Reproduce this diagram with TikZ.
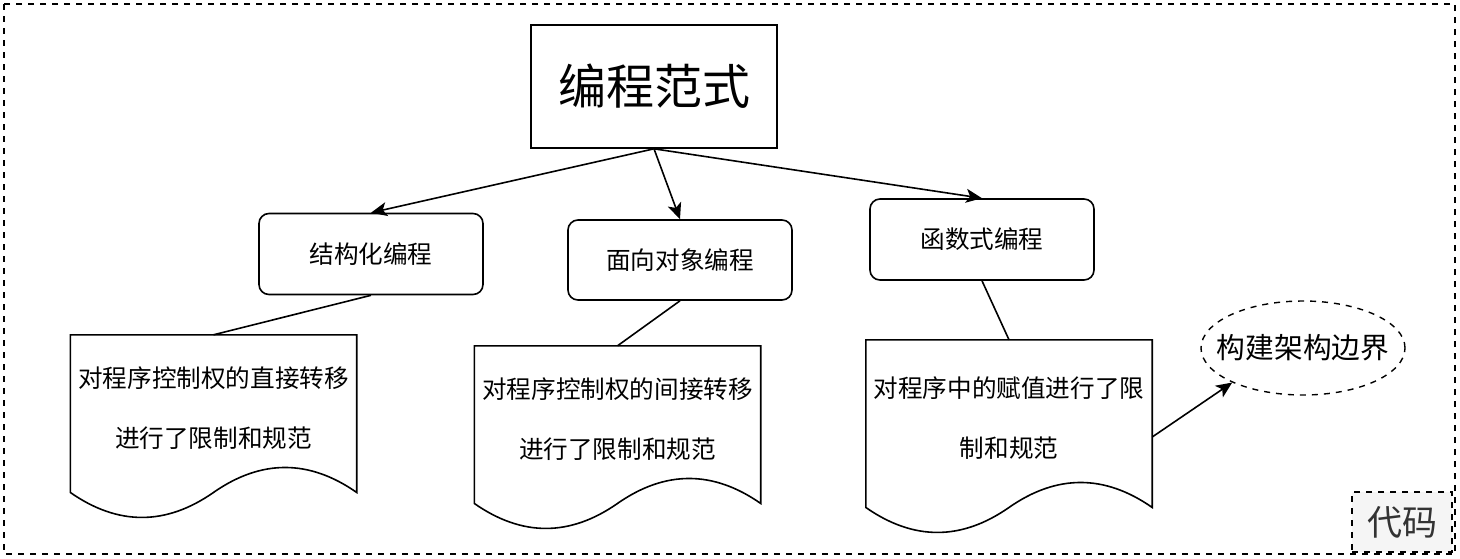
\documentclass[tikz,border=0pt]{standalone}
\usepackage{fontspec}
\setmainfont{Noto Sans CJK SC}
\usetikzlibrary{arrows.meta,shapes.geometric}
\definecolor{notegray}{HTML}{F5F5F5}
\definecolor{notetext}{HTML}{333333}
\newcommand{\docoutline}[1]{%
  \draw[line] (#1.north west) -- (#1.north east) -- ([yshift=-11.25pt]#1.south east)
    .. controls ([xshift=-47.7pt,yshift=22.05pt]#1.south east) and ([xshift=47.7pt,yshift=22.05pt]#1.south) .. ([yshift=-11.25pt]#1.south)
    .. controls ([xshift=-47.7pt,yshift=-44.55pt]#1.south) and ([xshift=47.7pt,yshift=-44.55pt]#1.south west) .. ([yshift=-11.25pt]#1.south west) -- cycle;}

\begin{document}
\begin{tikzpicture}[x=1pt,y=-1pt,
      line/.style={line width=1.6pt},
      dashline/.style={line width=1.6pt,dash pattern=on 6pt off 6pt},
      box/.style={draw,line width=1.6pt,rounded corners=10pt,fill=white,minimum width=224pt,minimum height=81pt,align=center,font=\fontsize{24.6}{30}\selectfont},
      doc/.style={minimum width=286pt,minimum height=146pt,inner sep=0pt,align=center,font=\fontsize{24.6}{30}\selectfont},
      arr/.style={-{Stealth[length=16pt,width=14pt,inset=4pt]},line width=1.6pt}
    ]
    \useasboundingbox (0,0) rectangle (1460,558);
    \draw[dashline] (4,4) rectangle (1455,554);
    \node[draw,line width=1.6pt,minimum width=246pt,minimum height=123pt,font=\fontsize{48}{56}\selectfont] (para) at (654,86.5) {编程范式};
    \node[box] (struct) at (371,254) {结构化编程};
    \node[box,minimum height=80pt] (oop) at (680,260) {面向对象编程};
    \node[box] (func) at (982,239.5) {函数式编程};
    \draw[arr] (para.south) -- (struct.north);
    \draw[arr] (para.south) -- (oop.north);
    \draw[arr] (para.south) -- (func.north);
    \node[doc] (dstruct) at (213.5,408) {对程序控制权的直接转移\\[30pt]进行了限制和规范};
    \node[doc] (doop) at (617.5,419) {对程序控制权的间接转移\\[30pt]进行了限制和规范};
    \node[doc,minimum height=156pt] (dfunc) at (1009,418) {对程序中的赋值进行了限\\[30pt]制和规范};
    \docoutline{dstruct}
    \docoutline{doop}
    \docoutline{dfunc}
    \draw[line] (dstruct.north) -- (struct.south);
    \draw[line] (doop.north) -- (oop.south);
    \draw[line] (dfunc.north) -- (func.south);
    \node[ellipse,draw,dashline,line width=1.4pt,inner sep=0pt,minimum width=204pt,minimum height=94pt,font=\fontsize{28.7}{34}\selectfont] (bound) at (1303,348) {\makebox[0pt]{构建架构边界}};
    \draw[arr] ([yshift=-19pt]dfunc.east) -- (bound.206);
    \node[draw,dashline,fill=notegray,text=notetext,minimum width=100pt,minimum height=60pt,font=\fontsize{35}{40}\selectfont] (code) at (1402,522) {代码};
  \end{tikzpicture}
\end{document}
